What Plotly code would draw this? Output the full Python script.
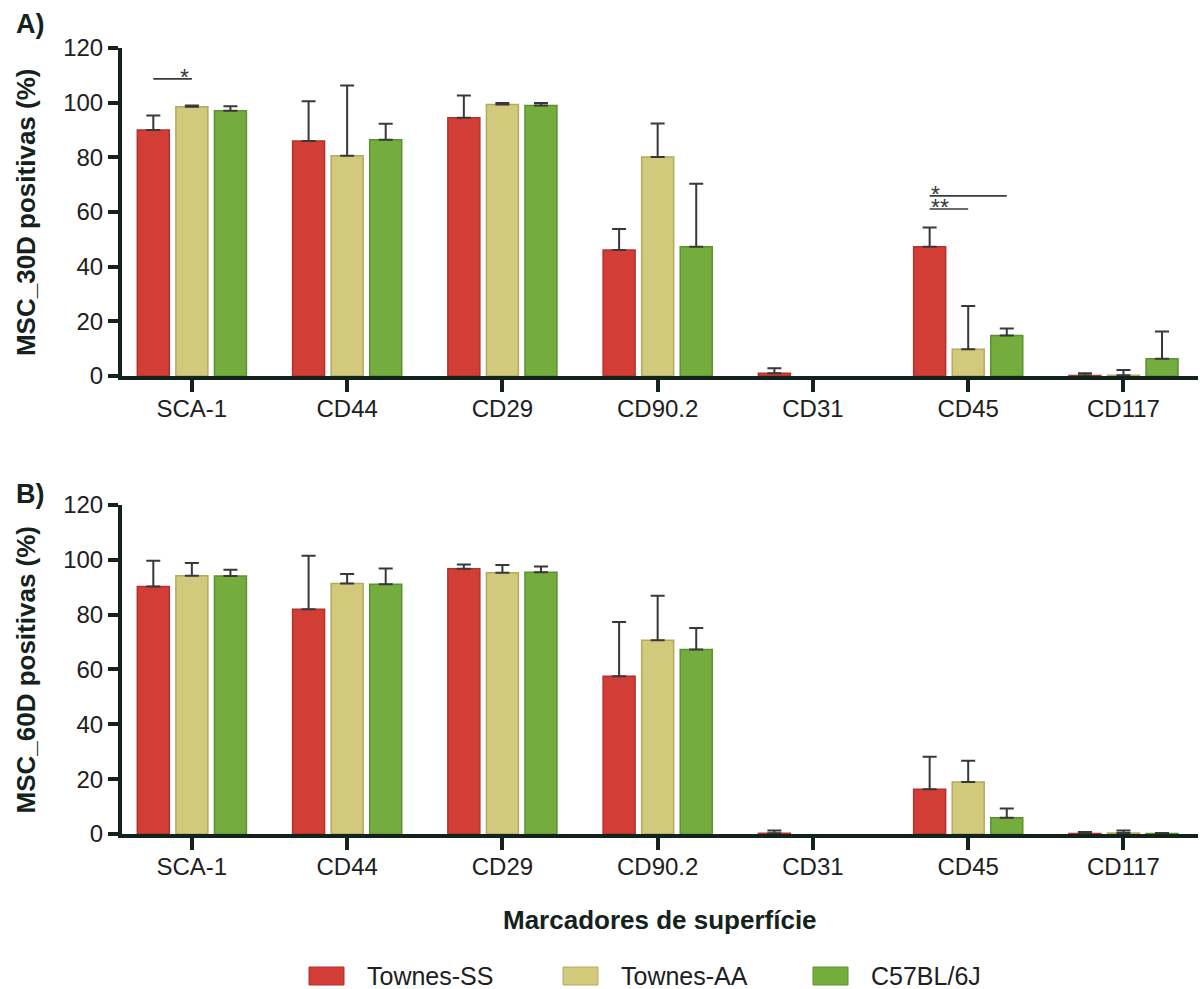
import math
import plotly.graph_objects as go
from plotly.subplots import make_subplots

# Surface markers (x categories)
markers = ["SCA-1", "CD44", "CD29", "CD90.2", "CD31", "CD45", "CD117"]
groups = ["Townes-SS", "Townes-AA", "C57BL/6J"]

# Panel A: MSC at 30 days (% positive cells), mean and upper SD
a_ss = [90.0, 86.0, 94.5, 46.1, 1.0, 47.3, 0.2]
a_ss_err = [5.3, 14.5, 8.1, 7.7, 1.8, 7.0, 0.8]
a_aa = [98.5, 80.6, 99.3, 80.1, 0.0, 9.8, 0.3]
a_aa_err = [0.5, 25.7, 0.6, 12.3, 0.0, 15.8, 1.9]
a_b6 = [97.0, 86.4, 99.0, 47.3, 0.0, 14.8, 6.3]
a_b6_err = [1.7, 5.9, 0.9, 23.0, 0.0, 2.6, 10.0]

# Panel B: MSC at 60 days (% positive cells), mean and upper SD
b_ss = [90.3, 82.0, 96.7, 57.5, 0.3, 16.3, 0.2]
b_ss_err = [9.4, 19.5, 1.6, 19.8, 1.0, 11.9, 0.5]
b_aa = [94.2, 91.4, 95.3, 70.7, 0.0, 19.0, 0.4]
b_aa_err = [4.6, 3.4, 2.8, 16.2, 0.0, 7.7, 0.9]
b_b6 = [94.1, 91.1, 95.5, 67.3, 0.0, 5.9, 0.2]
b_b6_err = [2.3, 5.7, 2.1, 7.8, 0.0, 3.4, 0.2]

y_ticks = [0, 20, 40, 60, 80, 100, 120]

# Significance brackets in panel A: (marker, first group, second group, height, label, star side)
sig_a = [
    ("SCA-1", 0, 1, 108.7, "*", "right"),
    ("CD45", 0, 2, 65.9, "*", "left"),
    ("CD45", 0, 1, 61.1, "**", "left"),
]

fills = ["#D23D36", "#D1C97C", "#74AC3D"]
edges = ["#B0332D", "#B3AA5E", "#5E9130"]
ink = "#14221C"
font_family = "Liberation Sans, Arial, sans-serif"

BARGAP = 0.255
BARGROUPGAP = 0.17


def blank_zero(values):
    # zero-valued means/SDs are not drawn (no bar, no cap)
    return [v if v > 0 else math.nan for v in values]


fig = make_subplots(rows=2, cols=1, vertical_spacing=0.1641)

panels = [
    (1, [(a_ss, a_ss_err), (a_aa, a_aa_err), (a_b6, a_b6_err)]),
    (2, [(b_ss, b_ss_err), (b_aa, b_aa_err), (b_b6, b_b6_err)]),
]
for row, series in panels:
    for i, (vals, errs) in enumerate(series):
        fig.add_trace(
            go.Bar(
                x=markers, y=blank_zero(vals), name=groups[i], showlegend=False,
                marker=dict(color=fills[i], line=dict(color=edges[i], width=1.5)),
                error_y=dict(type="data", symmetric=False, array=blank_zero(errs),
                             arrayminus=[0] * len(errs), color="#383838",
                             thickness=2, width=7),
            ),
            row=row, col=1,
        )

fig.update_layout(
    barmode="group", bargap=BARGAP, bargroupgap=BARGROUPGAP,
    width=1200, height=989,
    margin=dict(l=122, r=2, t=48, b=155),
    paper_bgcolor="white", plot_bgcolor="white",
    font=dict(family=font_family, color=ink),
    showlegend=False,
)

axis_common = dict(showline=True, linecolor=ink, linewidth=4, showgrid=False,
                   zeroline=False, ticks="outside", tickcolor=ink)
for r in (1, 2):
    fig.update_xaxes(axis_common, row=r, col=1, range=[-0.45, 6.48],
                     ticklen=12, tickwidth=4, ticklabelstandoff=-4,
                     tickfont=dict(size=24, color="#202020"))
    fig.update_yaxes(axis_common, row=r, col=1, range=[0, 120],
                     tickvals=y_ticks, ticklen=10, tickwidth=3.5,
                     tickfont=dict(size=24, color="#202020"))

fig.update_layout(yaxis=dict(domain=[0.5827, 1.0]), yaxis2=dict(domain=[0.0, 0.4186]))

# Significance lines and stars (bar centres derived from the group layout)
slot = (1 - BARGAP) / 3
shapes = []
annotations = []
for marker, g1, g2, h, label, side in sig_a:
    c = markers.index(marker)
    x1 = c + (g1 - 1) * slot
    x2 = c + (g2 - 1) * slot
    shapes.append(dict(type="line", xref="x", yref="y", x0=x1, x1=x2, y0=h, y1=h,
                       line=dict(color="#3a3a3a", width=1.6)))
    annotations.append(dict(
        xref="x", yref="y", x=(x2 if side == "right" else x1), y=h,
        text=label, showarrow=False, xanchor=side, yanchor="bottom",
        height=12, valign="top", xshift=-1, yshift=0,
        font=dict(size=23, color="#3a3a3a")))

# Panel letters and axis titles
annotations += [
    dict(xref="paper", yref="paper", x=-0.1003, y=1.0310, text="<b>A)</b>",
         showarrow=False, xanchor="left", yanchor="middle", font=dict(size=27, color=ink)),
    dict(xref="paper", yref="paper", x=-0.1003, y=0.4331, text="<b>B)</b>",
         showarrow=False, xanchor="left", yanchor="middle", font=dict(size=27, color=ink)),
    dict(xref="paper", yref="paper", x=-0.0892, y=0.7913, text="<b>MSC_30D positivas (%)</b>",
         textangle=-90, showarrow=False, xanchor="center", yanchor="middle",
         font=dict(size=26, color=ink)),
    dict(xref="paper", yref="paper", x=-0.0892, y=0.2093, text="<b>MSC_60D positivas (%)</b>",
         textangle=-90, showarrow=False, xanchor="center", yanchor="middle",
         font=dict(size=26, color=ink)),
    dict(xref="paper", yref="paper", x=0.5, y=-0.1094, text="<b>Marcadores de superfície</b>",
         showarrow=False, xanchor="center", yanchor="middle", font=dict(size=26, color=ink)),
]

# Legend drawn as swatches + labels below the x title
plot_left, plot_w, plot_bottom, plot_h = 122, 1076, 834, 786


def px_x(px):
    return (px - plot_left) / plot_w


def px_y(py):
    return (plot_bottom - py) / plot_h


swatch_left = [309, 563, 813]
legend_cy = 976
for i, name in enumerate(groups):
    shapes.append(dict(type="rect", xref="paper", yref="paper",
                       x0=px_x(swatch_left[i]), x1=px_x(swatch_left[i] + 35),
                       y0=px_y(legend_cy + 9), y1=px_y(legend_cy - 9),
                       fillcolor=fills[i], line=dict(color=edges[i], width=1)))
    annotations.append(dict(xref="paper", yref="paper", x=px_x(swatch_left[i] + 56),
                            y=px_y(legend_cy), text=name, showarrow=False,
                            xanchor="left", yanchor="middle",
                            font=dict(size=25, color="#202020")))

fig.update_layout(shapes=shapes, annotations=annotations)

fig.write_html("out.html")
